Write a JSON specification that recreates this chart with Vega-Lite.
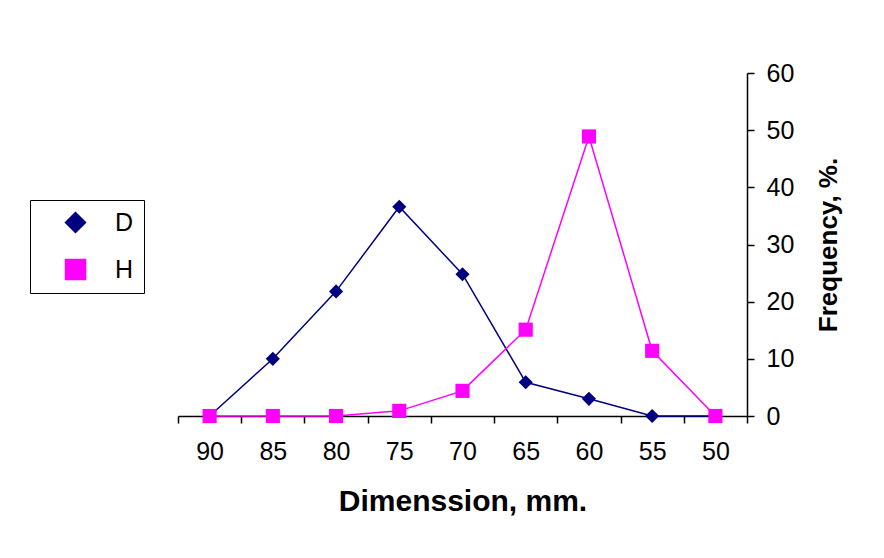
{
  "$schema": "https://vega.github.io/schema/vega-lite/v6.json",
  "autosize": "none",
  "width": 569,
  "height": 343,
  "padding": {"left": 178, "top": 73, "right": 137, "bottom": 142},
  "background": "white",
  "config": {
    "view": {"stroke": null},
    "font": "Liberation Sans",
    "axis": {"grid": false, "domainColor": "black", "tickColor": "black", "labelColor": "black", "titleColor": "black", "labelFont": "Liberation Sans", "titleFont": "Liberation Sans", "labelFontSize": 25, "titleFontSize": 30, "titleFontWeight": "bold", "domainWidth": 1.5, "tickWidth": 1.5}
  },
  "data": {"values": [
    {"dim": 90, "series": "D", "freq": 0},
    {"dim": 85, "series": "D", "freq": 10},
    {"dim": 80, "series": "D", "freq": 21.8},
    {"dim": 75, "series": "D", "freq": 36.6},
    {"dim": 70, "series": "D", "freq": 24.8},
    {"dim": 65, "series": "D", "freq": 5.9},
    {"dim": 60, "series": "D", "freq": 3},
    {"dim": 55, "series": "D", "freq": 0},
    {"dim": 50, "series": "D", "freq": 0},
    {"dim": 90, "series": "H", "freq": 0},
    {"dim": 85, "series": "H", "freq": 0},
    {"dim": 80, "series": "H", "freq": 0},
    {"dim": 75, "series": "H", "freq": 0.9},
    {"dim": 70, "series": "H", "freq": 4.4},
    {"dim": 65, "series": "H", "freq": 15.1},
    {"dim": 60, "series": "H", "freq": 48.9},
    {"dim": 55, "series": "H", "freq": 11.4},
    {"dim": 50, "series": "H", "freq": 0}
  ]},
  "encoding": {
    "x": {"field": "dim", "type": "ordinal", "sort": "descending", "bandPosition": 0.5,
      "scale": {"type": "band", "paddingInner": 0, "paddingOuter": 0},
      "axis": {"orient": "bottom", "tickBand": "extent", "tickSize": 7, "labelAngle": 0, "labelPadding": 16, "title": "Dimenssion, mm.", "titlePadding": 22}},
    "y": {"field": "freq", "type": "quantitative",
      "scale": {"domain": [0, 60], "nice": false},
      "axis": {"orient": "right", "values": [0, 10, 20, 30, 40, 50, 60], "tickSize": 7, "labelPadding": 12, "title": "Frequency, %.", "titleAngle": 270, "titleFontSize": 26, "titlePadding": 48}},
    "color": {"field": "series", "type": "nominal",
      "scale": {"domain": ["D", "H"], "range": ["#000080", "#ff00ff"]},
      "legend": {"orient": "none", "legendX": -148, "legendY": 127, "title": null, "strokeColor": "black", "fillColor": "white", "padding": 10, "labelFontSize": 25, "labelColor": "black", "labelFont": "Liberation Sans", "symbolSize": 400, "symbolOffset": 23, "labelOffset": 27, "rowPadding": 20}}
  },
  "layer": [
    {"mark": {"type": "line", "strokeWidth": 1.5}},
    {"mark": {"type": "point", "filled": true, "opacity": 1, "size": 200},
      "encoding": {
        "shape": {"field": "series", "type": "nominal", "scale": {"domain": ["D", "H"], "range": ["diamond", "square"]}, "legend": null}
      }}
  ]
}
